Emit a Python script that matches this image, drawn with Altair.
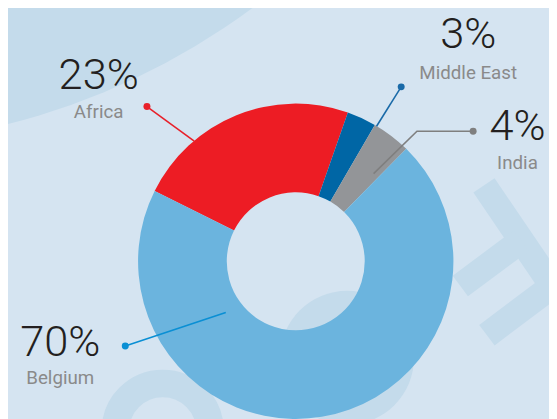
import math
import altair as alt
import pandas as pd

# ---- data ----
regions = ["Africa", "Middle East", "India", "Belgium"]
shares = [23, 3, 4, 70]
pct_labels = ["23%", "3%", "4%", "70%"]

# ---- styles / layout (not data) ----
slice_colors = ["#ed1c24", "#0066a5", "#939598", "#6bb4de"]
leader_colors = ["#e8202a", "#1a6aa8", "#7f7f7f", "#0a8fd4"]
bg = "#d5e4f1"
deco = "#c4dbeb"

W, H = 549, 411
CX, CY = 292, 254
R_OUT, R_IN = 160, 70
START = math.radians(-63.5)

# label anchor (center x, baseline of percent, baseline of name)
label_pos = {
    "Africa": (92, 79, 109),
    "Middle East": (467, 38, 69),
    "India": (517, 131, 160),
    "Belgium": (53, 350, 379),
}
# leader polylines, first point is the dot
leader_pts = {
    "Africa": [(141, 97), (189, 132)],
    "Middle East": [(399, 77), (374, 117)],
    "India": [(472, 122), (415, 122), (371, 165)],
    "Belgium": [(119, 340), (221, 306)],
}

pie_df = pd.DataFrame({"region": regions, "share": shares, "idx": range(len(regions))})

lab_df = pd.DataFrame({
    "region": regions,
    "pct": pct_labels,
    "lx": [label_pos[r][0] for r in regions],
    "py": [label_pos[r][1] for r in regions],
    "ny": [label_pos[r][2] for r in regions],
})

rows = []
for r, c in zip(regions, leader_colors):
    for i, (x, y) in enumerate(leader_pts[r]):
        rows.append({"region": r, "i": i, "x": x, "y": y, "lc": c})
lead_df = pd.DataFrame(rows)
dot_df = lead_df[lead_df["i"] == 0]

# decorative background shapes
circ_df = pd.DataFrame({
    "x": [-172, 344],
    "y": [-568, 352],
    "s": [4 * 704 ** 2, 4 * 68 ** 2],
})
ring_df = pd.DataFrame({"x": [157], "y": [426], "s": [4 * 48 ** 2]})
bands = [
    [(483, 177), (570, 305)],
    [(459, 279), (521, 233)],
    [(486, 329), (575, 262)],
]
brows = []
for k, seg in enumerate(bands):
    for i, (x, y) in enumerate(seg):
        brows.append({"b": k, "i": i, "x": x, "y": y})
band_df = pd.DataFrame(brows)

X = lambda f: alt.X(f, scale=None, axis=None)
Y = lambda f: alt.Y(f, scale=None, axis=None)

circles = alt.Chart(circ_df).mark_circle(color=deco, opacity=1).encode(
    x=X("x:Q"), y=Y("y:Q"), size=alt.Size("s:Q", scale=None, legend=None)
)
ring = alt.Chart(ring_df).mark_point(shape="circle", filled=False, color=deco,
                                     strokeWidth=28, opacity=1).encode(
    x=X("x:Q"), y=Y("y:Q"), size=alt.Size("s:Q", scale=None, legend=None)
)
band_lines = alt.Chart(band_df).mark_line(color=deco, strokeWidth=26, strokeCap="butt").encode(
    x=X("x:Q"), y=Y("y:Q"), detail="b:N", order="i:Q"
)

donut = alt.Chart(pie_df).mark_arc(radius=R_OUT, radius2=R_IN, strokeWidth=0).encode(
    theta=alt.Theta("share:Q", stack=True,
                    scale=alt.Scale(range=[START, START + 2 * math.pi])),
    order=alt.Order("idx:Q"),
    color=alt.Color("region:N", scale=alt.Scale(domain=regions, range=slice_colors), legend=None),
    x=alt.value(CX), y=alt.value(CY),
)

leaders = alt.Chart(lead_df).mark_line(strokeWidth=1.6).encode(
    x=X("x:Q"), y=Y("y:Q"), detail="region:N", order="i:Q",
    stroke=alt.Stroke("lc:N", scale=None, legend=None),
)
dots = alt.Chart(dot_df).mark_circle(size=50, opacity=1).encode(
    x=X("x:Q"), y=Y("y:Q"), fill=alt.Fill("lc:N", scale=None, legend=None),
)

pct_text = alt.Chart(lab_df).mark_text(
    font="Roboto", fontWeight=300, fontSize=44, color="#231f20",
    align="center", baseline="alphabetic"
).encode(x=X("lx:Q"), y=Y("py:Q"), text="pct:N")

name_text = alt.Chart(lab_df).mark_text(
    font="Roboto", fontWeight=400, fontSize=19, color="#8a8a8a",
    align="center", baseline="alphabetic"
).encode(x=X("lx:Q"), y=Y("ny:Q"), text="region:N")

chart = alt.layer(
    circles, ring, band_lines, donut, leaders, dots, pct_text, name_text
).resolve_scale(color="independent").properties(
    width=W, height=H, padding=0,
    autosize=alt.AutoSizeParams(type="none"),
).configure(background=bg).configure_view(strokeWidth=0)

chart.save("out.html", embed_options={"renderer": "svg", "actions": False})
